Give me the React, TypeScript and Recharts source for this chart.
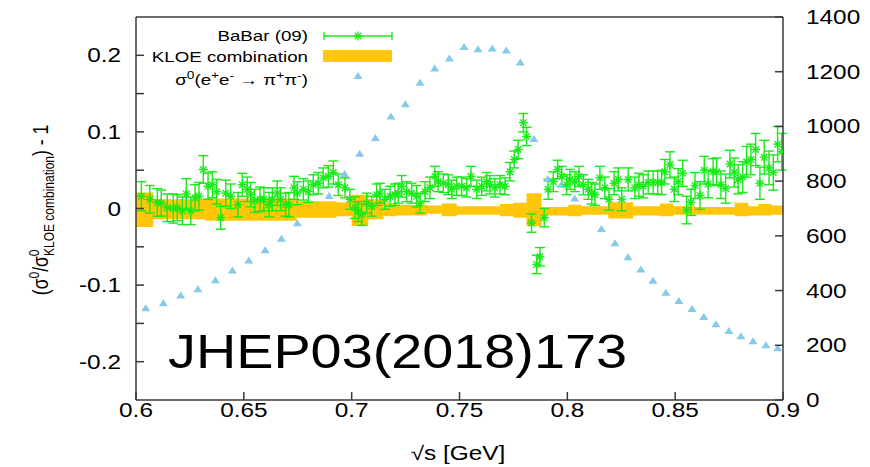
import React from "react";
import {
  ComposedChart,
  Area,
  Scatter,
  ErrorBar,
  XAxis,
  YAxis,
  ReferenceLine,
} from "recharts";

// BaBar (09) relative difference to the KLOE combination
const BABAR_X = [
  0.6025, 0.6064, 0.6099, 0.6117, 0.6145, 0.6173, 0.6191, 0.6215, 0.6233, 0.6254,
  0.6274, 0.6292, 0.6312, 0.6334, 0.6354, 0.6374, 0.6393, 0.6416, 0.6439, 0.6473,
  0.6493, 0.6516, 0.6532, 0.655, 0.6575, 0.6593, 0.6617, 0.6632, 0.6655, 0.6671,
  0.6694, 0.6709, 0.6733, 0.6748, 0.6776, 0.6799, 0.6822, 0.6845, 0.6868, 0.6892,
  0.6915, 0.6938, 0.6969, 0.6992, 0.7015, 0.7031, 0.7046, 0.707, 0.7093, 0.7116,
  0.7131, 0.7154, 0.7178, 0.7201, 0.7216, 0.7232, 0.7255, 0.7278, 0.7301, 0.7317,
  0.734, 0.7363, 0.7386, 0.7401, 0.7425, 0.7448, 0.7464, 0.7487, 0.751, 0.7533,
  0.7553, 0.758, 0.7603, 0.7626, 0.7641, 0.7664, 0.7688, 0.7711, 0.7734, 0.7754,
  0.7772, 0.7796, 0.7811, 0.7834, 0.7858, 0.7873, 0.7893, 0.7911, 0.7935, 0.7955,
  0.7974, 0.7997, 0.8012, 0.8035, 0.8054, 0.8074, 0.8097, 0.8113, 0.8128, 0.8151,
  0.8174, 0.8193, 0.8217, 0.8236, 0.8252, 0.8282, 0.8313, 0.8332, 0.8352, 0.8375,
  0.8398, 0.8419, 0.8437, 0.8452, 0.8476, 0.8496, 0.8514, 0.8535, 0.8553, 0.8573,
  0.8592, 0.8615, 0.8635, 0.8653, 0.8676, 0.8692, 0.8712, 0.8734, 0.8754, 0.8774,
  0.8792, 0.8813, 0.8831, 0.8851, 0.8873, 0.8893, 0.8913, 0.8935, 0.8955, 0.8975,
  0.8994,
];
const BABAR_Y = [
  0.016, 0.012, 0.008, 0.007, 0.001, 0.0, 0.001, -0.003, 0.019, -0.003,
  0.014, 0.016, 0.051, 0.029, 0.031, 0.022, -0.012, 0.02, 0.016, 0.005,
  0.031, 0.025, 0.018, 0.01, 0.012, 0.012, 0.005, 0.012, 0.02, 0.012,
  0.005, 0.005, 0.027, 0.02, 0.025, 0.022, 0.031, 0.033, 0.04, 0.042,
  0.047, 0.031, 0.027, 0.012, 0.001, -0.004, -0.008, 0.007, 0.003, 0.018,
  0.02, 0.012, 0.016, 0.018, 0.02, 0.029, 0.022, 0.02, 0.016, 0.007,
  0.022, 0.027, 0.042, 0.035, 0.033, 0.031, 0.025, 0.029, 0.029, 0.027,
  0.042, 0.025, 0.029, 0.035, 0.031, 0.027, 0.031, 0.029, 0.048, 0.064,
  0.077, 0.112, 0.094, -0.019, -0.073, -0.063, -0.012, 0.025, 0.035, 0.051,
  0.042, 0.031, 0.038, 0.035, 0.042, 0.031, 0.025, 0.02, 0.018, 0.04,
  0.027, 0.012, 0.033, 0.038, 0.012, 0.038, 0.027, 0.031, 0.029, 0.034,
  0.034, 0.034, 0.034, 0.048, 0.057, 0.025, 0.035, 0.046, -0.002, 0.008,
  0.03, 0.017, 0.05, 0.032, 0.048, 0.048, 0.031, 0.026, 0.058, 0.047,
  0.038, 0.041, 0.061, 0.064, 0.077, 0.033, 0.067, 0.053, 0.047, 0.084,
  0.074,
];
const BABAR_ERR = [
  0.019, 0.018, 0.018, 0.017, 0.018, 0.019, 0.017, 0.018, 0.02, 0.018,
  0.017, 0.018, 0.018, 0.017, 0.017, 0.016, 0.015, 0.017, 0.016, 0.016,
  0.015, 0.016, 0.016, 0.015, 0.016, 0.015, 0.016, 0.015, 0.016, 0.015,
  0.015, 0.016, 0.015, 0.015, 0.014, 0.014, 0.013, 0.014, 0.013, 0.014,
  0.015, 0.014, 0.013, 0.013, 0.014, 0.013, 0.014, 0.013, 0.013, 0.014,
  0.013, 0.013, 0.013, 0.014, 0.013, 0.014, 0.013, 0.013, 0.014, 0.013,
  0.013, 0.014, 0.013, 0.013, 0.012, 0.013, 0.012, 0.012, 0.012, 0.012,
  0.013, 0.012, 0.012, 0.012, 0.012, 0.012, 0.012, 0.011, 0.012, 0.011,
  0.012, 0.012, 0.012, 0.012, 0.012, 0.012, 0.012, 0.013, 0.013, 0.012,
  0.013, 0.013, 0.013, 0.013, 0.013, 0.013, 0.013, 0.014, 0.014, 0.015,
  0.014, 0.014, 0.015, 0.015, 0.015, 0.015, 0.014, 0.015, 0.015, 0.015,
  0.015, 0.015, 0.016, 0.016, 0.017, 0.016, 0.017, 0.017, 0.018, 0.017,
  0.017, 0.018, 0.018, 0.018, 0.017, 0.018, 0.018, 0.019, 0.018, 0.019,
  0.019, 0.02, 0.02, 0.02, 0.021, 0.021, 0.022, 0.022, 0.023, 0.023,
  0.024,
];

// KLOE combination: bin edges and band limits per bin
const KLOE_EDGES = [
  0.6, 0.608, 0.632, 0.6745, 0.693, 0.7, 0.7077, 0.7147, 0.7209, 0.7348,
  0.7417, 0.7487, 0.7688, 0.7749, 0.7811, 0.7881, 0.8004, 0.8066, 0.819, 0.8305,
  0.8429, 0.8491, 0.8592, 0.8776, 0.8839, 0.8885, 0.8947, 0.9,
];
const KLOE_LO = [
  -0.024, -0.014, -0.016, -0.012, -0.01, -0.023, -0.014, -0.01, -0.009, -0.007,
  -0.01, -0.008, -0.01, -0.012, -0.023, -0.009, -0.01, -0.008, -0.013, -0.009,
  -0.01, -0.008, -0.008, -0.01, -0.009, -0.009, -0.008,
];
const KLOE_HI = [
  0.021, 0.012, 0.013, 0.0095, 0.008, 0.018, 0.012, 0.007, 0.005, 0.004,
  0.0065, 0.003, 0.006, 0.0075, 0.02, 0.002, 0.005, 0.003, 0.008, 0.003,
  0.0065, 0.003, 0.002, 0.0075, 0.003, 0.006, 0.004,
];

// bare cross section sigma0(e+e- -> pi+pi-) [nb], right axis
const SIGMA_X = [
  0.6045, 0.6127, 0.6207, 0.6287, 0.6368, 0.6447, 0.6523, 0.6599, 0.6674, 0.6748,
  0.6895, 0.6967, 0.7037, 0.711, 0.7182, 0.7249, 0.7317, 0.7385, 0.7453, 0.7521,
  0.7586, 0.7652, 0.7717, 0.7782, 0.7845, 0.7909, 0.7972, 0.8034, 0.8158, 0.8221,
  0.8281, 0.8341, 0.8397, 0.8457, 0.8517, 0.8578, 0.8633, 0.8689, 0.8749, 0.8805,
  0.8861, 0.8921, 0.8976,
];
const SIGMA_Y = [
  335, 354, 382, 405, 438, 473, 510, 547, 589, 646,
  746, 826, 900, 958, 1036, 1081, 1160, 1212, 1248, 1290,
  1282, 1285, 1278, 1234, 954, 808, 787, 737, 625, 573,
  522, 477, 436, 392, 362, 333, 303, 277, 252, 233,
  215, 200, 189,
];

const X_TICKS = [0.6, 0.65, 0.7, 0.75, 0.8, 0.85, 0.9];
const Y_TICKS = [-0.2, -0.15, -0.1, -0.05, 0, 0.05, 0.1, 0.15, 0.2];
const Y2_TICKS = [0, 200, 400, 600, 800, 1000, 1200, 1400];

const GREEN = "#19ea19";
const ORANGE = "#ffc60a";
const BLUE = "#87c9e8";
const AXIS = "#3a3a3a";
const FONT = "'Liberation Sans', Arial, Helvetica, sans-serif";
const SX = 1.25; // the original is stretched horizontally

const babarRows = BABAR_X.map((x, i) => ({ x, y: BABAR_Y[i], err: BABAR_ERR[i] }));
const sigmaRows = SIGMA_X.map((x, i) => ({ x, s: SIGMA_Y[i] }));
const kloeRows = KLOE_EDGES.map((x, i) => {
  const k = Math.min(i, KLOE_LO.length - 1);
  return { x, band: [KLOE_LO[k], KLOE_HI[k]] };
});

function Label({ x, y, anchor, size = 19.5, children }: any) {
  return (
    <g transform={`translate(${x},${y}) scale(${SX},1)`}>
      <text textAnchor={anchor} fontSize={size} fontFamily={FONT} fill="#000">
        {children}
      </text>
    </g>
  );
}

function XTick({ x, y, payload }: any) {
  return (
    <g>
      <line x1={x} y1={y} x2={x} y2={y - 8} stroke={AXIS} strokeWidth={1.5} />
      <Label x={x} y={y + 17} anchor="middle">
        {String(payload.value)}
      </Label>
    </g>
  );
}

function YTick({ x, y, payload }: any) {
  const v = payload.value;
  const major = Math.abs(Math.round(v * 10) - v * 10) < 1e-9;
  return (
    <g>
      <line x1={x} y1={y} x2={x + 8} y2={y} stroke={AXIS} strokeWidth={1.5} />
      {major && (
        <Label x={x - 15} y={y + 7} anchor="end">
          {String(v)}
        </Label>
      )}
    </g>
  );
}

function Y2Tick({ x, y, payload }: any) {
  return (
    <g>
      <line x1={x} y1={y} x2={x - 8} y2={y} stroke={AXIS} strokeWidth={1.5} />
      <Label x={x + 23} y={y + 7} anchor="start">
        {String(payload.value)}
      </Label>
    </g>
  );
}

function Star({ cx, cy, r = 4.5 }: any) {
  if (cx == null || cy == null) return null;
  const d = r * 0.72;
  return (
    <g stroke={GREEN} strokeWidth={1.4}>
      <line x1={cx - r} y1={cy} x2={cx + r} y2={cy} />
      <line x1={cx} y1={cy - r} x2={cx} y2={cy + r} />
      <line x1={cx - d} y1={cy - d} x2={cx + d} y2={cy + d} />
      <line x1={cx - d} y1={cy + d} x2={cx + d} y2={cy - d} />
    </g>
  );
}

function Tri({ cx, cy }: any) {
  if (cx == null || cy == null) return null;
  return (
    <polygon
      points={`${cx - 4.5},${cy + 3} ${cx + 4.5},${cy + 3} ${cx},${cy - 4}`}
      fill={BLUE}
    />
  );
}

function Overlay() {
  return (
    <svg
      width={870}
      height={467}
      style={{ position: "absolute", left: 0, top: 0, pointerEvents: "none" }}
    >
      {/* legend */}
      <Label x={308} y={41} anchor="end" size={15}>
        BaBar (09)
      </Label>
      <g stroke={GREEN} strokeWidth={1.3}>
        <line x1={324} y1={36} x2={392} y2={36} />
        <line x1={324} y1={32} x2={324} y2={40} />
        <line x1={392} y1={32} x2={392} y2={40} />
      </g>
      <Star cx={358} cy={36} />
      <Label x={308} y={62} anchor="end" size={15}>
        KLOE combination
      </Label>
      <rect x={323} y={50} width={69} height={12} fill={ORANGE} />
      <g transform={`translate(308,85) scale(${SX},1)`}>
        <text textAnchor="end" fontSize={15} fontFamily={FONT} fill="#000">
          σ<tspan dy={-6} fontSize={11}>0</tspan>
          <tspan dy={6}>(e</tspan>
          <tspan dy={-6} fontSize={11}>+</tspan>
          <tspan dy={6}>e</tspan>
          <tspan dy={-6} fontSize={11}>-</tspan>
          <tspan dy={6}> → π</tspan>
          <tspan dy={-6} fontSize={11}>+</tspan>
          <tspan dy={6}>π</tspan>
          <tspan dy={-6} fontSize={11}>-</tspan>
          <tspan dy={6}>)</tspan>
        </text>
      </g>
      <Tri cx={358} cy={76} />

      {/* y axis title */}
      <g transform={`translate(48,210) rotate(-90) scale(1,${SX})`}>
        <text textAnchor="middle" fontSize={17.5} fontFamily={FONT} fill="#000">
          (σ<tspan dy={-7} fontSize={12}>0</tspan>
          <tspan dy={7}>/σ</tspan>
          <tspan dy={-7} fontSize={12}>0</tspan>
          <tspan dx={-6.5} dy={11.5} fontSize={12}>KLOE combination</tspan>
          <tspan dy={-4.5}>) - 1</tspan>
        </text>
      </g>

      {/* x axis title */}
      <Label x={458} y={460} anchor="middle">
        √s [GeV]
      </Label>

      <text
        x={168}
        y={368}
        fontSize={49}
        fontFamily={FONT}
        fill="#000"
        textLength={459}
        lengthAdjust="spacingAndGlyphs"
      >
        JHEP03(2018)173
      </text>
    </svg>
  );
}

export default function App() {
  return (
    <div
      style={{
        position: "absolute",
        left: 0,
        top: 0,
        width: 870,
        height: 467,
        background: "#fff",
      }}
    >
      <ComposedChart
        width={870}
        height={467}
        data={kloeRows}
        margin={{ top: 17, right: 0, bottom: 0, left: 0 }}
      >
        <XAxis
          dataKey="x"
          type="number"
          domain={[0.6, 0.9]}
          ticks={X_TICKS}
          allowDataOverflow
          height={67}
          tickSize={0}
          tickMargin={0}
          tickLine={false}
          tick={<XTick />}
          axisLine={{ stroke: AXIS, strokeWidth: 1.5 }}
        />
        <YAxis
          yAxisId="left"
          type="number"
          domain={[-0.25, 0.25]}
          ticks={Y_TICKS}
          allowDataOverflow
          width={136}
          tickSize={0}
          tickMargin={0}
          tickLine={false}
          tick={<YTick />}
          axisLine={{ stroke: AXIS, strokeWidth: 1.5 }}
        />
        <YAxis
          yAxisId="right"
          orientation="right"
          type="number"
          domain={[0, 1400]}
          ticks={Y2_TICKS}
          allowDataOverflow
          width={87}
          tickSize={0}
          tickMargin={0}
          tickLine={false}
          tick={<Y2Tick />}
          axisLine={{ stroke: AXIS, strokeWidth: 1.5 }}
        />
        <ReferenceLine yAxisId="left" y={0.25} stroke={AXIS} strokeWidth={1.5} />

        <Scatter
          yAxisId="right"
          data={sigmaRows}
          dataKey="s"
          shape={<Tri />}
          isAnimationActive={false}
        />
        <Area
          yAxisId="left"
          dataKey="band"
          type="stepAfter"
          stroke="none"
          fill={ORANGE}
          fillOpacity={1}
          dot={false}
          activeDot={false}
          isAnimationActive={false}
        />
        <Scatter
          yAxisId="left"
          data={babarRows}
          dataKey="y"
          shape={<Star />}
          isAnimationActive={false}
        >
          <ErrorBar dataKey="err" direction="y" width={5} stroke={GREEN} strokeWidth={1.4} />
        </Scatter>
      </ComposedChart>
      <Overlay />
    </div>
  );
}
